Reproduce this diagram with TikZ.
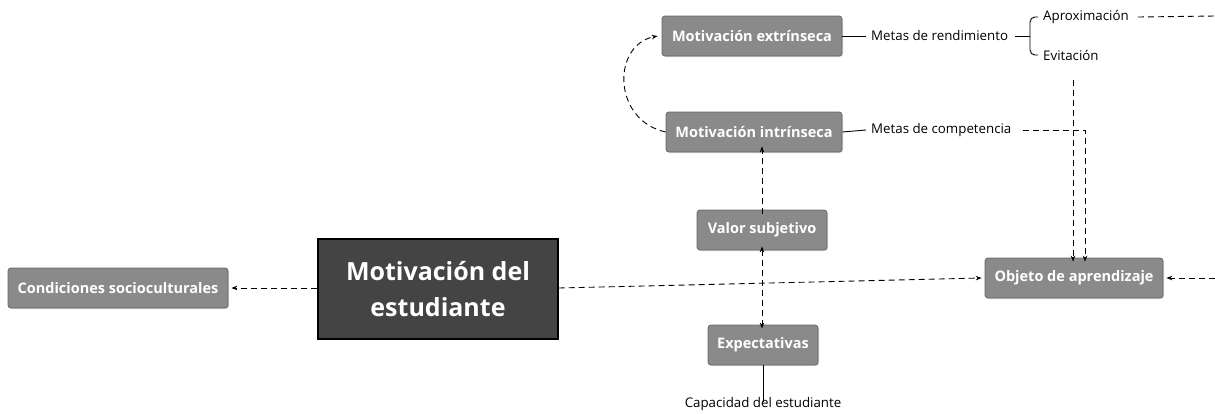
\documentclass[tikz,border=0pt]{standalone}
\usepackage{fontspec}
\setmainfont{Open Sans}
\usetikzlibrary{arrows.meta,shadows}
\definecolor{boxfill}{HTML}{8A8A8A}
\definecolor{boxdraw}{HTML}{666666}
\definecolor{mainfill}{HTML}{444444}
\tikzset{
  gbox/.style={rounded corners=3pt, fill=boxfill, draw=boxdraw, line width=0.8pt,
    text=white, font=\bfseries\fontsize{14.5}{16}\selectfont, inner sep=0pt,
    minimum height=40pt, drop shadow={shadow xshift=1pt, shadow yshift=-1pt, opacity=0.3}},
  mbox/.style={fill=mainfill, draw=black, line width=1.4pt, text=white,
    font=\bfseries\fontsize{25}{36}\selectfont, align=center, inner sep=0pt,
    minimum width=240pt, minimum height=100pt},
  lbl/.style={font=\fontsize{13.3}{15}\selectfont, inner sep=1pt},
  dline/.style={dash pattern=on 6pt off 4pt, line width=0.9pt},
  arr/.style={-{Stealth[length=6pt,width=4.5pt]}},
  sline/.style={line width=0.9pt},
}
\begin{document}
\begin{tikzpicture}[x=1pt,y=-1pt]
\useasboundingbox (0,0) rectangle (1215,413);
% nodes
\node[gbox, minimum width=220pt] (cond) at (118,288) {Condiciones socioculturales};
\node[mbox] (main) at (438,289) {Motivación del\\estudiante};
\node[gbox, minimum width=180pt] (ext) at (752,36) {Motivación extrínseca};
\node[gbox, minimum width=176pt] (int) at (754,132) {Motivación intrínseca};
\node[gbox, minimum width=130pt] (val) at (762,230) {Valor subjetivo};
\node[gbox, minimum width=110pt] (expc) at (763,345) {Expectativas};
\node[gbox, minimum width=178pt] (obj) at (1074,278) {Objeto de aprendizaje};
\node[lbl, anchor=west] (rend) at (870,36) {Metas de rendimiento};
\node[lbl, anchor=west] (aprox) at (1042,17) {Aproximación};
\node[lbl, anchor=west] (evit) at (1042,55) {Evitación};
\node[lbl, anchor=west] (comp) at (870,130) {Metas de competencia};
\node[lbl] (cap) at (763,404) {Capacidad del estudiante};
% coordinates
\coordinate (braceL) at (1030,36);
\coordinate (aproxEnd) at (1215,16);
\coordinate (rightIn) at (1215,278);
\coordinate (compCorner) at (1085,130);
\coordinate (evitTop) at (1073,80);
% solid connectors
\draw[sline] (ext.east) -- ([xshift=-4pt]rend.west);
\draw[sline] (int.east) -- ([xshift=-4pt]comp.west);
\draw[sline] ([xshift=6pt]rend.east) -- (braceL);
\draw[sline, rounded corners=5pt] ([xshift=-4pt]aprox.west) -- (1030,17) -- (1030,55) -- ([xshift=-4pt]evit.west);
\draw[sline] (expc.south) -- ([yshift=-6pt]cap.north);
% dashed connectors
\draw[dline, arr] (main.west |- 0,288) -- ([xshift=3pt]cond.east);
\draw[dline, arr] (main.east |- 0,288) -- ([xshift=-3pt]obj.west);
\draw[dline] ([xshift=8pt]aprox.east) -- (aproxEnd);
\draw[dline, arr] (rightIn) -- ([xshift=3pt]obj.east);
\draw[dline, arr] ([xshift=10pt]comp.east) -- (compCorner) -- ([yshift=-4pt]compCorner |- obj.north);
\draw[dline, arr] (evitTop) -- ([yshift=-4pt]evitTop |- obj.north);
\draw[dline, {Stealth[length=6pt,width=4.5pt]}-{Stealth[length=6pt,width=4.5pt]}] ([yshift=4pt]val.south) -- ([yshift=-4pt]val.south |- expc.north);
\draw[dline, arr] ([yshift=-4pt]val.north) -- ([yshift=6pt]val.north |- int.south);
\draw[dline, arr] (int.west) .. controls (612,120) and (612,45) .. ([xshift=-4pt]ext.west);
\end{tikzpicture}
\end{document}
